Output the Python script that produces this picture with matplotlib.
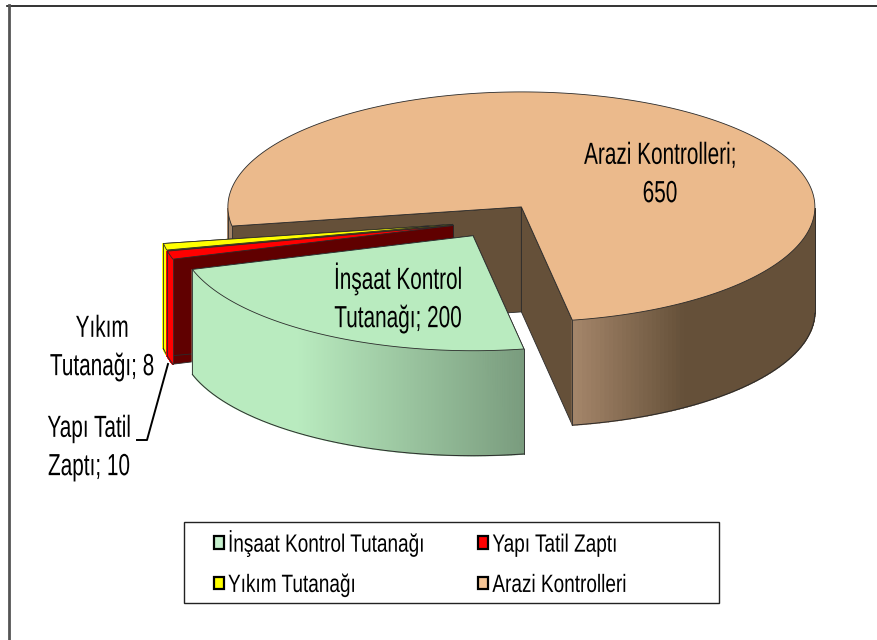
# Exploded 3D pie, drawn by hand because matplotlib has no 3D pie
import matplotlib
matplotlib.use('Agg')
import matplotlib.pyplot as plt
import numpy as np
from matplotlib.colors import to_rgb
from matplotlib.patches import Patch, Polygon, Rectangle
from matplotlib.patheffects import AbstractPathEffect
from matplotlib.transforms import Affine2D

# Data
names = ['İnşaat Kontrol Tutanağı', 'Yapı Tatil Zaptı', 'Yıkım Tutanağı', 'Arazi Kontrolleri']
values = [200, 10, 8, 650]
top_colors = ['#b9ebbf', '#ff0000', '#ffff00', '#ebba8c']
face_colors = ['#7d9e80', '#600000', '#666600', '#655039']
legend_colors = ['#c6f0cd', '#ff0000', '#ffff00', '#f5c596']
# side wall gradient as (x pixel, colour)
wall_stops = [
    [(190, '#b9ebbf'), (297, '#b9ebbf'), (523, '#7a9c7e')],
    [(0, '#ff0000'), (877, '#ff0000')],
    [(0, '#ffff00'), (877, '#ffff00')],
    [(572, '#a5866a'), (683, '#655039'), (877, '#655039')],
]

# Pie geometry, in pixels
cx, cy = 496, 221
rx, ry = 293.5, 115
depth = 105
explode = 0.15
first_angle = 170

plt.rcParams['font.family'] = ['Liberation Sans', 'DejaVu Sans']


class Squeeze(AbstractPathEffect):
    # the reference text is stretched tall, narrow it sideways around x0 (or the line start)
    def __init__(self, sx, x0=None):
        super().__init__()
        self.sx = sx
        self.x0 = x0

    def draw_path(self, renderer, gc, tpath, affine, rgbFace=None):
        x0 = affine.get_matrix()[0, 2] if self.x0 is None else self.x0
        squeeze = Affine2D().translate(-x0, 0).scale(self.sx, 1).translate(x0, 0)
        renderer.draw_path(gc, tpath, affine + squeeze, rgbFace)


fig = plt.figure(figsize=(8.77, 6.4), dpi=100)
ax = fig.add_axes([0, 0, 1, 1])
ax.set_xlim(0, 877)
ax.set_ylim(640, 0)
ax.axis('off')


def project(theta, ox, oy):
    t = np.radians(theta)
    return ox + rx * np.sin(t), oy - ry * np.cos(t)


def wall_color(x, stops):
    xs = [s[0] for s in stops]
    rgb = np.array([to_rgb(s[1]) for s in stops])
    return [np.interp(x, xs, rgb[:, i]) for i in range(3)]


def label(x, y, txt):
    t = ax.text(x, y, txt, ha='center', va='center', fontsize=22, linespacing=1.36, zorder=20)
    t.set_path_effects([Squeeze(0.68, x)])


edge = '#2a2a2a'
angles = first_angle + np.cumsum([0] + values) / sum(values) * 360

for i in [3, 2, 1, 0]:
    a0, a1 = angles[i], angles[i + 1]
    mid = np.radians((a0 + a1) / 2)
    ox = cx + explode * rx * np.sin(mid)
    oy = cy - explode * ry * np.cos(mid)
    th = np.linspace(a0, a1, 300)
    x, y = project(th, ox, oy)
    base = i * -10

    # the two cut faces
    for ang in (a0, a1):
        ex, ey = project(ang, ox, oy)
        ax.add_patch(Polygon([(ox, oy), (ex, ey), (ex, ey + depth), (ox, oy + depth)],
                             fc=face_colors[i], ec=edge, lw=0.6, zorder=base + 1))

    # rim, only the part that faces the viewer
    front = np.cos(np.radians(th)) <= 0
    for j in range(len(th) - 1):
        if front[j] and front[j + 1]:
            c = wall_color((x[j] + x[j + 1]) / 2, wall_stops[i])
            ax.add_patch(Polygon([(x[j], y[j]), (x[j + 1], y[j + 1]),
                                  (x[j + 1], y[j + 1] + depth), (x[j], y[j] + depth)],
                                 fc=c, ec=c, lw=1.0, zorder=base + 2))
    # outline under the rim and up its ends
    yb = np.where(front, y + depth, np.nan)
    ax.plot(x, yb, color=edge, lw=0.7, zorder=base + 3)
    ends = np.flatnonzero(np.diff(front.astype(int)))
    for k in np.r_[ends[front[ends]], ends[~front[ends]] + 1, [0] if front[0] else [], [-1] if front[-1] else []].astype(int):
        ax.plot([x[k], x[k]], [y[k], y[k] + depth], color=edge, lw=0.6, zorder=base + 3)

    # top surface
    ax.add_patch(Polygon(np.r_[[[ox, oy]], np.c_[x, y]], fc=top_colors[i], ec=edge, lw=0.6,
                         zorder=base + 4))

# Data labels
label(660, 175, f'{names[3]};\n{values[3]}')
label(398, 298, f'İnşaat Kontrol\nTutanağı; {values[0]}')
label(102, 348, f'Yıkım\nTutanağı; {values[2]}')
label(89, 448, f'Yapı Tatil\nZaptı; {values[1]}')
ax.plot([168, 147, 137], [364, 440, 440], color='black', lw=1.4, zorder=20)

# Legend, filled row by row; the frame is separate so side and top padding can differ
ax.add_patch(Rectangle((184, 522), 535, 81, fc='white', ec='#222222', lw=1, zorder=21))
handles = [Patch(fc=c, ec='black', lw=1.6) for c in legend_colors]
order = [0, 2, 1, 3]
leg = ax.legend([handles[i] for i in order], [names[i] for i in order], ncol=2,
                bbox_to_anchor=(214 / 877, 1 - 530 / 640), loc='upper left',
                borderaxespad=0, borderpad=0, fontsize=18, handlelength=0.4, handleheight=0.4,
                handletextpad=0.16, labelspacing=0.65, columnspacing=-0.32, frameon=False)
leg.set_zorder(22)
for t in leg.get_texts():
    t.set_path_effects([Squeeze(0.76)])

# Chart border, top and left only
ax.plot([7, 877], [5.5, 5.5], color='#111111', lw=1.2)
ax.plot([8.5, 8.5], [5, 640], color='#555555', lw=2)

fig.savefig('out.png', dpi=100)
